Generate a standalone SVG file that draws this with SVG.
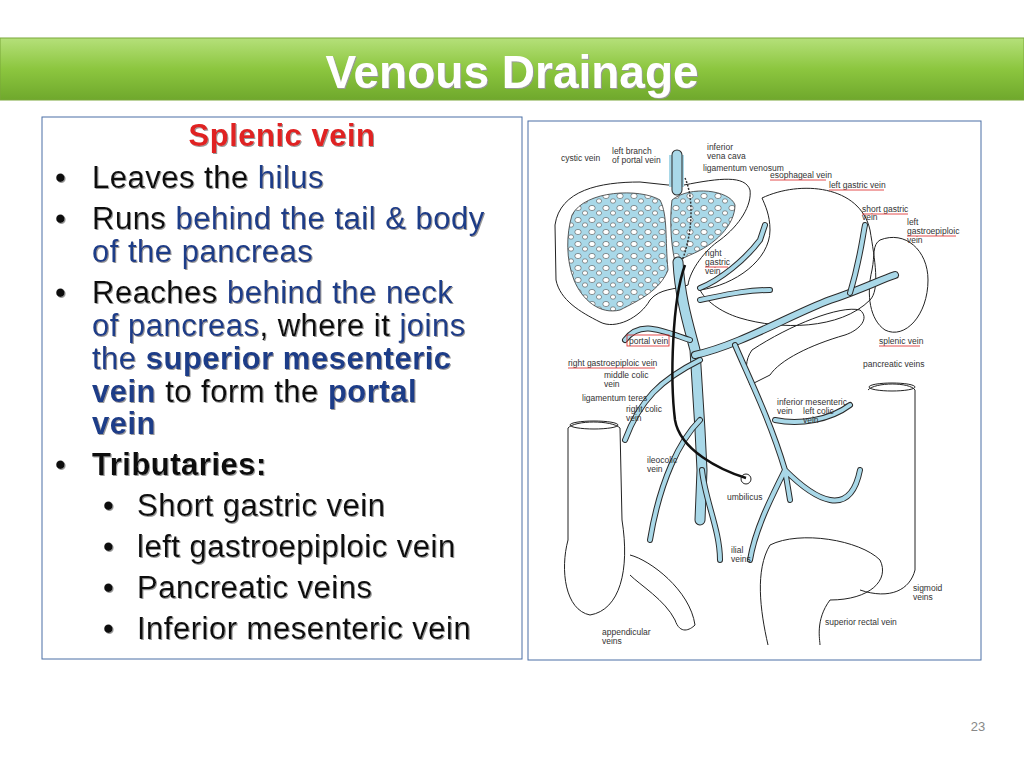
<svg xmlns="http://www.w3.org/2000/svg" width="1024" height="768" viewBox="0 0 1024 768">
<defs>
<linearGradient id="g" x1="0" y1="0" x2="0" y2="1"><stop offset="0" stop-color="#b5e07a"/><stop offset="0.5" stop-color="#8cc63f"/><stop offset="1" stop-color="#6fa82c"/></linearGradient>
<pattern id="sp" width="14" height="12" patternUnits="userSpaceOnUse"><rect width="14" height="12" fill="#a9d8e8"/><ellipse cx="4" cy="4" rx="3.2" ry="2.6" fill="#fff" stroke="#333" stroke-width="0.5"/><ellipse cx="11" cy="9" rx="2.6" ry="2.2" fill="#fff" stroke="#333" stroke-width="0.5"/></pattern>
<filter id="sh"><feDropShadow dx="1" dy="1" stdDeviation="0.6" flood-color="#999"/></filter>
</defs>
<style>
.t{font-family:"Liberation Sans",Arial,sans-serif;font-size:31px;letter-spacing:0.5px;fill:#111}
.b{fill:#1f3c88}
.l{font-family:"Liberation Sans",Arial,sans-serif;font-size:8.5px;fill:#333}
.o{fill:none;stroke:#222;stroke-width:1}
.v{fill:none;stroke:#2a2a2a;stroke-linecap:round}
.vi{fill:none;stroke:#a9d8e8;stroke-linecap:round}
.u{stroke:#d22;stroke-width:0.8}
</style>
<rect width="1024" height="768" fill="#fff"/>
<rect x="0" y="38" width="1024" height="62" fill="url(#g)" stroke="#7aa83a"/>
<text x="512" y="88" text-anchor="middle" font-family="Liberation Sans,Arial,sans-serif" font-weight="bold" font-size="46" fill="#fff" filter="url(#sh)">Venous Drainage</text>

<g id="textbox">
<rect x="42" y="117" width="480" height="542" fill="#fff" stroke="#4a6fa5"/>
<g class="t" filter="url(#sh)">
<text x="282" y="146" text-anchor="middle" font-weight="bold" fill="#e02020">Splenic vein</text>
<text x="55" y="188">•</text><text x="92" y="188">Leaves the <tspan class="b">hilus</tspan></text>
<text x="55" y="229">•</text><text x="92" y="229">Runs <tspan class="b">behind the tail &amp; body</tspan></text>
<text x="92" y="262" class="b">of the pancreas</text>
<text x="55" y="303">•</text><text x="92" y="303">Reaches <tspan class="b">behind the neck</tspan></text>
<text x="92" y="336"><tspan class="b">of pancreas</tspan>, where it <tspan class="b">joins</tspan></text>
<text x="92" y="369"><tspan class="b">the </tspan><tspan class="b" font-weight="bold">superior mesenteric</tspan></text>
<text x="92" y="402"><tspan class="b" font-weight="bold">vein</tspan> to form the <tspan class="b" font-weight="bold">portal</tspan></text>
<text x="92" y="434" class="b" font-weight="bold">vein</text>
<text x="55" y="475">•</text><text x="92" y="475" font-weight="bold">Tributaries:</text>
<text x="103" y="516">•</text><text x="137" y="516">Short gastric vein</text>
<text x="103" y="557">•</text><text x="137" y="557">left gastroepiploic vein</text>
<text x="103" y="598">•</text><text x="137" y="598">Pancreatic veins</text>
<text x="103" y="639">•</text><text x="137" y="639">Inferior mesenteric vein</text>
</g>
</g>

<g id="figure">
<rect x="528" y="121" width="453" height="539" fill="#fff" stroke="#4a6fa5"/>
<path class="o" d="M555,225 C560,190 600,182 640,182 L668,185 L684,185 C720,178 745,175 750,190 C752,205 740,225 720,240 C705,250 690,270 688,285 C675,290 660,288 650,300 C640,318 615,330 600,322 C580,312 560,300 556,280 Z"/>
<path d="M572,215 C585,190 640,188 660,200 C668,215 665,240 668,270 C660,290 640,300 620,310 C600,315 582,300 574,280 C566,260 566,235 572,215 Z" fill="url(#sp)" stroke="#333" stroke-width="0.8"/>
<path d="M672,200 C690,185 730,190 735,205 C735,225 715,245 690,255 L675,262 C670,240 670,215 672,200 Z" fill="url(#sp)" stroke="#333" stroke-width="0.8"/>
<rect x="669" y="155" width="15" height="32" fill="#a9d8e8"/>
<path d="M685,178 C695,200 692,240 680,265" fill="none" stroke="#333" stroke-width="1.5" stroke-dasharray="2,1.5"/>
<path class="o" d="M762,198 C800,180 860,185 870,230 C875,260 880,290 870,300 C840,330 780,330 740,318 C720,312 705,300 700,290 C735,285 770,260 770,230 C770,215 765,205 762,198 Z"/>
<path class="o" d="M880,240 C905,230 928,250 928,280 C928,315 905,340 885,330 C870,320 866,295 872,270 C875,255 872,245 880,240 Z"/>
<path class="o" d="M752,350 C790,325 840,305 860,310 C870,318 860,330 845,335 C810,345 780,360 770,375 L750,385 C745,370 745,360 752,350 Z"/>
<g>
<path class="v" stroke-width="11" d="M677,155 L677,190 M678,262 C680,300 690,330 695,350 L700,430 L702,470 L700,520"/>
<path class="vi" stroke-width="9" d="M677,155 L677,190 M678,262 C680,300 690,330 695,350 L700,430 L702,470 L700,520"/>
<path class="v" stroke-width="8" d="M695,355 C740,345 790,315 830,300 C860,290 880,280 895,275"/>
<path class="vi" stroke-width="6" d="M695,355 C740,345 790,315 830,300 C860,290 880,280 895,275"/>
<path class="v" stroke-width="6" d="M700,288 C720,280 745,260 760,240 L765,225 M735,345 C750,380 770,420 785,470 L790,500 M700,300 C725,295 745,290 770,290 M700,360 C660,380 640,400 625,440 M775,420 C800,425 830,420 850,405 M700,420 C680,440 660,480 650,540 M702,470 C705,500 720,530 720,560 M785,470 C770,500 755,530 750,560 M785,470 C815,500 850,520 860,470 M690,340 C660,330 640,320 625,340 M850,293 C860,260 862,240 865,225"/>
<path class="vi" stroke-width="4" d="M700,288 C720,280 745,260 760,240 L765,225 M735,345 C750,380 770,420 785,470 L790,500 M700,300 C725,295 745,290 770,290 M700,360 C660,380 640,400 625,440 M775,420 C800,425 830,420 850,405 M700,420 C680,440 660,480 650,540 M702,470 C705,500 720,530 720,560 M785,470 C770,500 755,530 750,560 M785,470 C815,500 850,520 860,470 M690,340 C660,330 640,320 625,340 M850,293 C860,260 862,240 865,225"/>
</g>
<path d="M685,265 C672,300 670,380 675,420 C680,450 720,470 746,478" fill="none" stroke="#111" stroke-width="2.5"/>
<circle cx="746" cy="479" r="5" class="o"/>
<path class="o" d="M568,428 C575,420 612,420 620,428 L622,520 C630,570 620,610 590,615 C565,610 560,570 568,540 Z"/>
<ellipse cx="594" cy="425" rx="24" ry="4" class="o"/>
<path class="o" d="M868,390 C875,382 910,382 915,390 L915,570 C910,590 890,600 860,590"/>
<ellipse cx="892" cy="387" rx="23" ry="4" class="o"/>
<path class="o" d="M770,545 C800,530 860,540 880,560 C890,580 870,600 830,600 C815,620 820,640 820,645 M770,545 C755,570 760,610 768,645 M630,555 C650,560 690,590 695,625 C690,630 680,635 675,620 C665,600 640,585 630,575"/>
</g>

<g id="labels" class="l">
<text x="561" y="161">cystic vein</text>
<text x="612" y="154">left branch</text><text x="612" y="163">of portal vein</text>
<text x="707" y="150">inferior</text><text x="707" y="159">vena cava</text>
<text x="703" y="171">ligamentum venosum</text>
<text x="770" y="178">esophageal vein</text><line class="u" x1="770" y1="180" x2="826" y2="180"/>
<text x="829" y="188">left gastric vein</text><line class="u" x1="829" y1="190" x2="884" y2="190"/>
<text x="862" y="212">short gastric</text><text x="862" y="220">vein</text><line class="u" x1="862" y1="214" x2="908" y2="214"/>
<text x="907" y="225">left</text><text x="907" y="234">gastroepiploic</text><text x="907" y="243">vein</text><line class="u" x1="907" y1="236" x2="956" y2="236"/>
<text x="705" y="256">right</text><text x="705" y="265">gastric</text><text x="705" y="274">vein</text><line class="u" x1="705" y1="267" x2="728" y2="267"/>
<rect x="627" y="335" width="42" height="11" fill="none" stroke="#d22" stroke-width="0.8"/><text x="629" y="344">portal vein</text>
<text x="879" y="344">splenic vein</text><line class="u" x1="879" y1="346" x2="920" y2="346"/>
<text x="568" y="366">right gastroepiploic vein</text><line class="u" x1="568" y1="368" x2="655" y2="368"/>
<text x="863" y="367">pancreatic veins</text>
<text x="604" y="378">middle colic</text><text x="604" y="387">vein</text>
<text x="582" y="401">ligamentum teres</text>
<text x="626" y="412">right colic</text><text x="626" y="421">vein</text>
<text x="777" y="405">inferior mesenteric</text><text x="777" y="414">vein</text>
<text x="803" y="414">left colic</text><text x="803" y="423">vein</text>
<text x="647" y="463">ileocolic</text><text x="647" y="472">vein</text>
<text x="727" y="500">umbilicus</text>
<text x="731" y="553">ilial</text><text x="731" y="562">veins</text>
<text x="913" y="591">sigmoid</text><text x="913" y="600">veins</text>
<text x="825" y="625">superior rectal vein</text>
<text x="602" y="635">appendicular</text><text x="602" y="644">veins</text>
</g>
<text x="978" y="731" text-anchor="middle" font-family="Liberation Sans,Arial,sans-serif" font-size="13" fill="#888">23</text>
</svg>
